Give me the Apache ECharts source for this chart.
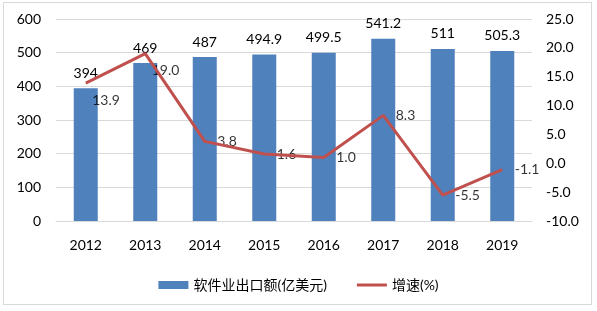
<!DOCTYPE html>
<html>
<head>
<meta charset="utf-8">
<script src="https://cdn.jsdelivr.net/npm/echarts@6/dist/echarts.min.js"></script>
<style>
  html, body { margin: 0; padding: 0; background: #fff; }
  #box { position: absolute; left: 3px; top: 2px; width: 589px; height: 303px; border: 1px solid #d9d9d9; box-sizing: border-box; }
  #chart { position: absolute; left: 0; top: 0; width: 597px; height: 311px; }
</style>
</head>
<body>
<div id="box"></div>
<div id="chart"></div>
<script>
// 软件业出口额 & 增速
var years = ['2012', '2013', '2014', '2015', '2016', '2017', '2018', '2019'];
var exportValues = [394, 469, 487, 494.9, 499.5, 541.2, 511, 505.3];
var growthValues = [13.9, 19.0, 3.8, 1.6, 1.0, 8.3, -5.5, -1.1];
var leftTicks = { min: 0, max: 600, interval: 100 };
var rightTicks = { min: -10, max: 25, interval: 5 };

var fontName = 'Lato, "Noto Sans CJK SC", sans-serif';

// the first two growth labels sit below-right so they don't hit the bar labels
var growthLabelData = growthValues.map(function (v, i) {
    var item = { value: v };
    if (i < 2) {
        item.label = { offset: [-6, 17] };
    }
    return item;
});

var myChart = echarts.init(document.getElementById('chart'));
var option = {
    animation: false,
    textStyle: { fontFamily: fontName },
    grid: { left: 56, right: 65, top: 19, bottom: 90, containLabel: false },
    legend: {
        bottom: 14,
        left: 'center',
        itemGap: 30,
        itemWidth: 30,
        itemHeight: 8,
        symbolKeepAspect: true,
        textStyle: { fontSize: 14, color: '#000', fontFamily: fontName },
        data: [
            { name: '软件业出口额(亿美元)', icon: 'rect' },
            { name: '增速(%)', icon: 'path://M0,0 H30 V3 H0 Z' }
        ]
    },
    xAxis: {
        type: 'category',
        data: years,
        axisTick: { show: false },
        axisLine: { lineStyle: { color: '#d9d9d9', width: 1 } },
        axisLabel: { color: '#000', fontSize: 14, margin: 17 }
    },
    yAxis: [
        {
            type: 'value',
            min: leftTicks.min,
            max: leftTicks.max,
            interval: leftTicks.interval,
            axisLine: { show: false },
            axisTick: { show: false },
            axisLabel: { color: '#000', fontSize: 14, margin: 15 },
            splitLine: { lineStyle: { color: '#d9d9d9', width: 1 } }
        },
        {
            type: 'value',
            min: rightTicks.min,
            max: rightTicks.max,
            interval: rightTicks.interval,
            axisLine: { show: false },
            axisTick: { show: false },
            axisLabel: {
                color: '#000',
                fontSize: 14,
                margin: 14,
                formatter: function (v) { return v.toFixed(1); }
            },
            splitLine: { show: false }
        }
    ],
    series: [
        {
            name: '软件业出口额(亿美元)',
            type: 'bar',
            data: exportValues,
            barWidth: 24,
            itemStyle: { color: '#4f81bd' },
            label: {
                show: true,
                position: 'top',
                distance: 8,
                color: '#000',
                fontSize: 14
            }
        },
        {
            name: '增速(%)',
            type: 'line',
            yAxisIndex: 1,
            data: growthValues,
            symbol: 'none',
            lineStyle: { color: '#c0504d', width: 3 },
            itemStyle: { color: '#c0504d' }
        },
        {
            // carries the growth labels only
            name: 'growthLabels',
            type: 'scatter',
            yAxisIndex: 1,
            data: growthLabelData,
            symbolSize: 1,
            itemStyle: { color: 'rgba(0,0,0,0)' },
            silent: true,
            label: {
                show: true,
                position: 'right',
                distance: 12,
                color: '#000',
                fontSize: 14,
                formatter: function (p) { return p.value.toFixed(1); }
            }
        }
    ]
};

option && myChart.setOption(option);
</script>
</body>
</html>
